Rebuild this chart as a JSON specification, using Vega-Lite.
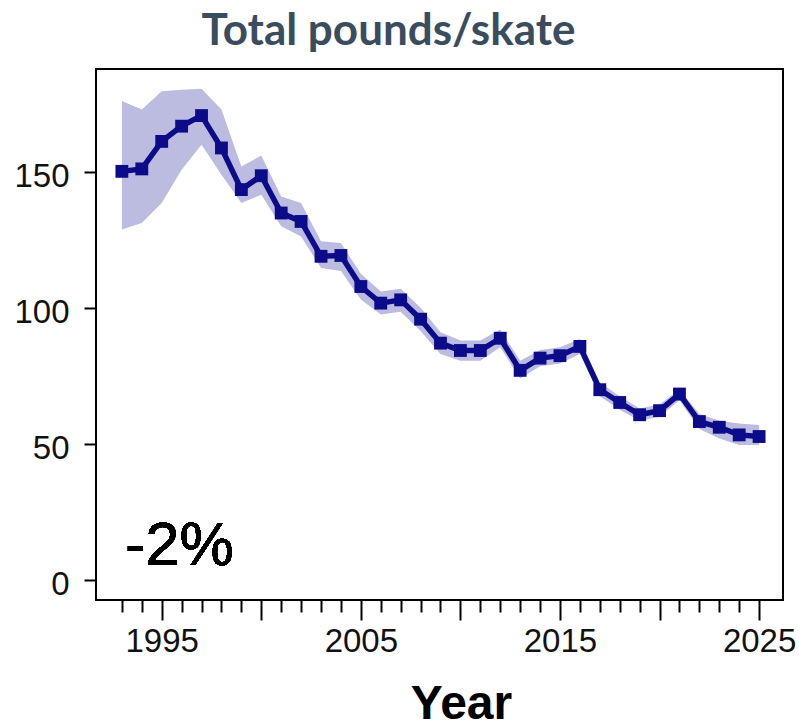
{
  "$schema": "https://vega.github.io/schema/vega-lite/v6.json",
  "width": 687,
  "height": 531,
  "autosize": "none",
  "padding": {"left": 96, "top": 69, "right": 16, "bottom": 128},
  "background": "white",
  "config": {
    "view": {"stroke": "black", "strokeWidth": 2},
    "axis": {"grid": false, "domain": false}
  },
  "title": {
    "text": "Total pounds/skate",
    "font": "Lato",
    "fontSize": 44,
    "fontWeight": "bold",
    "color": "#3a4d5e",
    "anchor": "middle",
    "dx": -51,
    "dy": 45,
    "offset": 25,
    "baseline": "alphabetic"
  },
  "data": {
    "values": [
      {"year": 1993, "value": 150.1, "lower": 128.7, "upper": 175.9},
      {"year": 1994, "value": 151.0, "lower": 131.1, "upper": 172.8},
      {"year": 1995, "value": 161.1, "lower": 138.5, "upper": 179.5},
      {"year": 1996, "value": 166.7, "lower": 150.7, "upper": 180.1},
      {"year": 1997, "value": 170.6, "lower": 159.9, "upper": 180.4},
      {"year": 1998, "value": 158.7, "lower": 148.9, "upper": 172.8},
      {"year": 1999, "value": 143.4, "lower": 138.5, "upper": 151.9},
      {"year": 2000, "value": 148.5, "lower": 141.5, "upper": 155.9},
      {"year": 2001, "value": 134.8, "lower": 129.9, "upper": 140.9},
      {"year": 2002, "value": 131.7, "lower": 126.2, "upper": 138.5},
      {"year": 2003, "value": 118.9, "lower": 114.6, "upper": 124.4},
      {"year": 2004, "value": 119.2, "lower": 113.5, "upper": 123.8},
      {"year": 2005, "value": 107.8, "lower": 103.0, "upper": 112.5},
      {"year": 2006, "value": 101.7, "lower": 97.5, "upper": 106.0},
      {"year": 2007, "value": 102.9, "lower": 98.5, "upper": 107.0},
      {"year": 2008, "value": 95.8, "lower": 91.5, "upper": 100.0},
      {"year": 2009, "value": 87.0, "lower": 83.0, "upper": 91.0},
      {"year": 2010, "value": 84.3, "lower": 80.5, "upper": 88.0},
      {"year": 2011, "value": 84.3, "lower": 80.5, "upper": 88.0},
      {"year": 2012, "value": 88.8, "lower": 85.5, "upper": 92.0},
      {"year": 2013, "value": 77.0, "lower": 74.0, "upper": 80.5},
      {"year": 2014, "value": 81.5, "lower": 78.5, "upper": 84.5},
      {"year": 2015, "value": 82.4, "lower": 79.5, "upper": 85.5},
      {"year": 2016, "value": 85.8, "lower": 83.0, "upper": 88.5},
      {"year": 2017, "value": 69.9, "lower": 67.5, "upper": 72.5},
      {"year": 2018, "value": 65.2, "lower": 62.5, "upper": 67.5},
      {"year": 2019, "value": 60.7, "lower": 58.5, "upper": 63.0},
      {"year": 2020, "value": 62.2, "lower": 60.0, "upper": 64.5},
      {"year": 2021, "value": 68.3, "lower": 66.0, "upper": 70.0},
      {"year": 2022, "value": 58.2, "lower": 55.5, "upper": 61.0},
      {"year": 2023, "value": 56.1, "lower": 52.0, "upper": 58.5},
      {"year": 2024, "value": 53.3, "lower": 49.6, "upper": 57.5},
      {"year": 2025, "value": 52.7, "lower": 49.6, "upper": 56.9}
    ]
  },
  "encoding": {
    "x": {
      "field": "year",
      "type": "quantitative",
      "scale": {"domain": [1991.7, 2026.2], "nice": false, "zero": false},
      "axis": {
        "values": [1993, 1994, 1995, 1996, 1997, 1998, 1999, 2000, 2001, 2002, 2003, 2004, 2005, 2006, 2007, 2008, 2009, 2010, 2011, 2012, 2013, 2014, 2015, 2016, 2017, 2018, 2019, 2020, 2021, 2022, 2023, 2024, 2025],
        "format": "d",
        "labelExpr": "datum.value % 10 === 5 ? datum.label : ''",
        "tickSize": {"condition": {"test": "datum.value % 5 === 0", "value": 20}, "value": 12},
        "tickWidth": 2,
        "tickColor": "black",
        "labelFont": "Liberation Sans",
        "labelFontSize": 33,
        "labelColor": "#111111",
        "labelPadding": 5,
        "labelFlush": false,
        "labelOverlap": false,
        "title": "Year",
        "titleFont": "Liberation Sans",
        "titleFontSize": 48,
        "titleFontWeight": "bold",
        "titleColor": "black",
        "titleX": 365,
        "titleY": 118,
        "titleAlign": "center",
        "titleBaseline": "alphabetic"
      }
    }
  },
  "layer": [
    {
      "mark": {"type": "area", "color": "#bcbce0", "opacity": 1},
      "encoding": {
        "y": {
          "field": "lower",
          "type": "quantitative",
          "scale": {"domain": [-7.35, 187.7], "nice": false, "zero": false},
          "axis": {
            "values": [0, 50, 100, 150],
            "tickSize": 12,
            "tickWidth": 2,
            "tickColor": "black",
            "labelFont": "Liberation Sans",
            "labelFontSize": 33,
            "labelColor": "#111111",
            "labelPadding": 15,
            "labelOffset": 5,
            "title": null
          }
        },
        "y2": {"field": "upper"}
      }
    },
    {
      "mark": {"type": "line", "color": "#0c0c8a", "strokeWidth": 5.5},
      "encoding": {"y": {"field": "value", "type": "quantitative"}}
    },
    {
      "mark": {"type": "point", "shape": "square", "filled": true, "size": 165, "color": "#0c0c8a", "opacity": 1},
      "encoding": {"y": {"field": "value", "type": "quantitative"}}
    },
    {
      "mark": {"type": "text", "text": "-2%", "font": "Liberation Sans", "fontSize": 61, "color": "black", "align": "left", "baseline": "alphabetic"},
      "encoding": {
        "x": {"datum": 1993.17, "type": "quantitative"},
        "y": {"datum": 5.5, "type": "quantitative"}
      }
    }
  ]
}
